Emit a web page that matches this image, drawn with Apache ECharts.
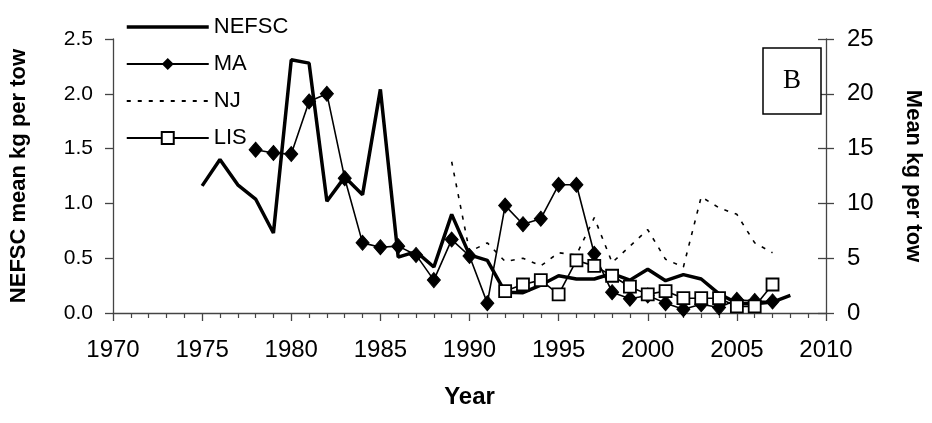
<!DOCTYPE html>
<html>
<head>
<meta charset="utf-8">
<script src="https://cdn.jsdelivr.net/npm/echarts@6/dist/echarts.min.js"></script>
<style>
html, body { margin: 0; padding: 0; background: #fff; }
#chart { width: 932px; height: 423px; }
</style>
</head>
<body>
<div id="chart"></div>
<script>
// values
var nefscYears = [1975, 1976, 1977, 1978, 1979, 1980, 1981, 1982, 1983, 1984, 1985, 1986, 1987, 1988, 1989, 1990, 1991,
	1992, 1993, 1994, 1995, 1996, 1997, 1998, 1999, 2000, 2001, 2002, 2003, 2004, 2005, 2006, 2007, 2008];
var nefsc = [1.16, 1.40, 1.17, 1.04, 0.73, 2.31, 2.28, 1.02, 1.24, 1.08, 2.04, 0.51, 0.56, 0.42, 0.90, 0.53, 0.48,
	0.19, 0.185, 0.255, 0.34, 0.31, 0.31, 0.36, 0.30, 0.40, 0.295, 0.35, 0.31, 0.175, 0.09, 0.085, 0.10, 0.16];

var maYears = [1978, 1979, 1980, 1981, 1982, 1983, 1984, 1985, 1986, 1987, 1988, 1989, 1990, 1991, 1992,
	1993, 1994, 1995, 1996, 1997, 1998, 1999, 2000, 2001, 2002, 2003, 2004, 2005, 2006, 2007];
var ma = [14.9, 14.6, 14.5, 19.3, 20.0, 12.3, 6.4, 6.0, 6.1, 5.3, 3.0, 6.7, 5.2, 0.9, 9.8,
	8.1, 8.6, 11.7, 11.7, 5.4, 1.9, 1.3, 1.6, 0.9, 0.35, 0.8, 0.5, 1.2, 1.1, 1.05];

var njYears = [1989, 1990, 1991, 1992, 1993, 1994, 1995, 1996, 1997, 1998, 1999, 2000, 2001, 2002, 2003, 2004, 2005, 2006, 2007];
var nj = [13.8, 5.6, 6.4, 4.7, 5.0, 4.3, 5.5, 5.3, 8.7, 4.6, 6.1, 7.6, 4.9, 4.2, 10.6, 9.6, 9.0, 6.4, 5.5];

var lisYears = [1992, 1993, 1994, 1995, 1996, 1997, 1998, 1999, 2000, 2001, 2002, 2003, 2004, 2005, 2006, 2007];
var lis = [2.0, 2.6, 3.0, 1.7, 4.8, 4.3, 3.4, 2.4, 1.7, 2.0, 1.35, 1.35, 1.35, 0.6, 0.6, 2.6];

function pairs(xs, ys) {
	var out = [];
	for (var i = 0; i < xs.length; i++) {
		out.push([xs[i], ys[i]]);
	}
	return out;
}

var font = 'Arial, "Liberation Sans", sans-serif';
var axisColor = '#444';

var myChart = echarts.init(document.getElementById('chart'));

var option = {
	animation: false,
	backgroundColor: '#fff',
	grid: { left: 111, right: 91, top: 39, bottom: 110 },
	legend: {
		orient: 'vertical',
		left: 120,
		top: 11,
		itemWidth: 82,
		itemHeight: 15,
		itemGap: 15,
		// line-only entries: hide the symbol the legend puts on them
		data: [
			{ name: 'NEFSC', itemStyle: { opacity: 0 }, lineStyle: { width: 3.5 } },
			{ name: 'MA' },
			{ name: 'NJ', itemStyle: { opacity: 0 } },
			{ name: 'LIS' }
		],
		textStyle: { fontFamily: font, fontSize: 22, color: '#000', lineHeight: 22, padding: [0, 0, 0, 0] }
	},
	xAxis: {
		type: 'value',
		min: 1970,
		max: 2010,
		interval: 5,
		name: 'Year',
		nameLocation: 'middle',
		nameGap: 72,
		nameTextStyle: { fontFamily: font, fontSize: 24, fontWeight: 'bold', color: '#000' },
		axisLine: { lineStyle: { color: axisColor, width: 1.3 } },
		axisTick: { length: 8, lineStyle: { color: axisColor, width: 1.3 } },
		minorTick: { show: true, splitNumber: 5, length: 5, lineStyle: { color: axisColor, width: 1.2 } },
		axisLabel: { fontFamily: font, fontSize: 24, color: '#000', margin: 25,
			formatter: function (v) { return String(v); } },
		splitLine: { show: false }
	},
	yAxis: [
		{
			type: 'value',
			position: 'left',
			min: 0,
			max: 2.5,
			interval: 0.5,
			name: 'NEFSC mean kg per tow',
			nameLocation: 'middle',
			nameGap: 83,
			nameTextStyle: { fontFamily: font, fontSize: 22, fontWeight: 'bold', color: '#000' },
			axisLine: { show: true, lineStyle: { color: axisColor, width: 1.3 } },
			axisTick: { show: true, length: 8, lineStyle: { color: axisColor, width: 1.3 } },
			axisLabel: { fontFamily: font, fontSize: 21, color: '#000', margin: 20,
				formatter: function (v) { return v.toFixed(1); } },
			splitLine: { show: false }
		},
		{
			type: 'value',
			position: 'right',
			min: 0,
			max: 25,
			interval: 5,
			name: 'Mean kg per tow',
			nameLocation: 'middle',
			nameGap: 76,
			nameRotate: -90,
			nameTextStyle: { fontFamily: font, fontSize: 22, fontWeight: 'bold', color: '#000' },
			axisLine: { show: true, lineStyle: { color: axisColor, width: 1.3 } },
			axisTick: { show: true, length: 8, lineStyle: { color: axisColor, width: 1.3 } },
			axisLabel: { fontFamily: font, fontSize: 24, color: '#000', margin: 21 },
			splitLine: { show: false }
		},
		{
			// inner half of the crossing ticks on the right axis
			type: 'value',
			position: 'right',
			min: 0,
			max: 25,
			interval: 5,
			axisLine: { show: false },
			axisTick: { show: true, inside: true, length: 8, lineStyle: { color: axisColor, width: 1.3 } },
			axisLabel: { show: false },
			splitLine: { show: false }
		}
	],
	graphic: [
		{
			type: 'rect',
			shape: { x: 763, y: 48, width: 58, height: 66 },
			style: { fill: '#fff', stroke: '#000', lineWidth: 1.5 },
			z: 100
		},
		{
			type: 'text',
			x: 792,
			y: 81,
			style: { text: 'B', font: '27px "Liberation Serif", "Times New Roman", serif', fill: '#000',
				align: 'center', verticalAlign: 'middle' },
			z: 101
		}
	],
	series: [
		{
			name: 'NEFSC',
			type: 'line',
			yAxisIndex: 0,
			data: pairs(nefscYears, nefsc),
			showSymbol: false,
			symbol: 'none',
			color: '#000',
			lineStyle: { color: '#000', width: 3.5 },
			z: 2
		},
		{
			name: 'MA',
			type: 'line',
			yAxisIndex: 1,
			data: pairs(maYears, ma),
			symbol: 'diamond',
			symbolSize: [13, 15],
			color: '#000',
			itemStyle: { color: '#000', borderColor: '#000' },
			lineStyle: { color: '#000', width: 1.6 },
			z: 3
		},
		{
			name: 'NJ',
			type: 'line',
			yAxisIndex: 1,
			data: pairs(njYears, nj),
			symbol: 'none',
			color: '#000',
			lineStyle: { color: '#000', width: 1.6, type: [4, 7] },
			z: 2
		},
		{
			name: 'LIS',
			type: 'line',
			yAxisIndex: 1,
			data: pairs(lisYears, lis),
			symbol: 'rect',
			symbolSize: 12,
			color: '#000',
			itemStyle: { color: '#fff', borderColor: '#000', borderWidth: 1.8 },
			lineStyle: { color: '#000', width: 1.6 },
			z: 4
		}
	]
};

myChart.setOption(option);
</script>
</body>
</html>
